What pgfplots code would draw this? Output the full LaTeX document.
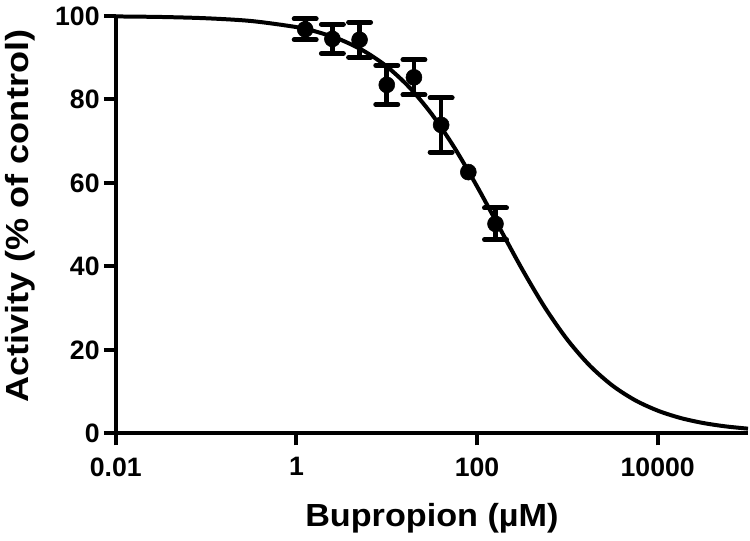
\documentclass[border=0pt]{standalone}
\usepackage{pgfplots}
\pgfplotsset{compat=1.18}
\usepackage{fontspec}
\setmainfont{Liberation Sans}

% measured points (mean, SEM)
\pgfplotstableread{
x    y     e
1.25 96.8  2.5
2.5  94.5  3.5
5    94.3  4.2
10   83.5  4.7
20   85.3  4.2
40   73.9  6.5
160  50.2  3.8
}\measured

% point whose error bar is hidden by its symbol
\pgfplotstableread{
x    y
80   62.6
}\small

% fitted curve
\pgfplotstableread{
x       y
0.01    99.89
0.03162 99.76
0.1     99.45
0.3162  98.79
1       97.33
1.778   96.05
3.162   94.21
5.623   91.57
10      87.90
17.78   82.91
31.62   76.43
56.23   68.43
100     59.16
177.8   49.21
316.2   39.30
562.3   30.20
1000    22.44
1778    16.20
3162    11.44
5623    7.95
10000   5.46
17783   3.71
31623   2.51
56234   1.69
100000  1.14
}\fit

\begin{document}
\begin{tikzpicture}
\path (-87pt,-80.25pt) rectangle (475.5pt,325.5pt);
\begin{axis}[
  at={(0,0)}, anchor=south west,
  scale only axis,
  width=474.75pt, height=313.5pt,
  xmode=log,
  xmin=0.01, xmax=100000,
  ymin=0, ymax=100,
  axis lines*=left,
  axis line style={line width=3pt},
  xtick={0.01,1,100,10000},
  xticklabels={0.01,1,100,10000},
  ytick={0,20,40,60,80,100},
  yticklabels={0,20,40,60,80,100},
  xminorticks=false,
  tick align=outside,
  major tick length=9pt,
  tick style={line width=3pt, black},
  ticklabel style={font=\fontsize{20}{20}\selectfont\bfseries},
  y tick label style={inner sep=3pt},
  x tick label style={inner sep=9pt},
  xlabel={Bupropion (\textmu M)},
  ylabel={Activity (\% of control)},
  label style={font=\fontsize{24}{24}\selectfont\bfseries},
  xlabel style={at={(axis description cs:0.5,-0.2035)}, anchor=center, xscale=1.07},
  ylabel style={at={(axis description cs:-0.1517,0.52)}, anchor=center, xscale=1.13},
  clip=false,
]
\addplot[black, line width=3pt, smooth, no marks] table[x=x, y=y] {\fit};
\addplot[black, only marks, mark=*, mark size=6pt,
  error bars/.cd, y dir=both, y explicit,
  error bar style={line width=3.5pt},
  error mark options={rotate=90, mark size=8.25pt, line width=3.75pt, line cap=round}]
  table[x=x, y=y, y error=e] {\measured};
\addplot[black, only marks, mark=*, mark size=6pt] table[x=x, y=y] {\small};
\end{axis}
\end{tikzpicture}
\end{document}
